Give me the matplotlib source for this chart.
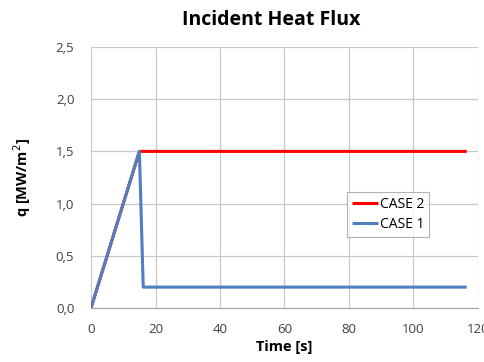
import matplotlib
matplotlib.use("Agg")
import matplotlib.pyplot as plt
from matplotlib.ticker import FuncFormatter

# Incident heat flux histories for the two load cases
case2_time = [0, 15, 116.5]
case2_q = [0.0, 1.5, 1.5]
case1_time = [0, 15, 16.2, 116.5]
case1_q = [0.0, 1.5, 0.2, 0.2]

x_ticks = [0, 20, 40, 60, 80, 100, 120]
y_ticks = [0.0, 0.5, 1.0, 1.5, 2.0, 2.5]

plt.rcParams['font.family'] = ['Open Sans', 'DejaVu Sans']

W, H = 485, 362
fig = plt.figure(figsize=(W / 100, H / 100), dpi=100)
ax = fig.add_axes([91 / W, 1 - 308 / H, 387 / W, 261 / H])

ax.plot(case2_time, case2_q, color='#ff0000', lw=2.2, label='CASE 2', solid_capstyle='butt')
ax.plot(case1_time, case1_q, color='#4f7fc0', lw=2.2, label='CASE 1', solid_capstyle='butt')

ax.set_xlim(0, 120)
ax.set_ylim(0, 2.5)
ax.set_xticks(x_ticks)
ax.set_yticks(y_ticks)
ax.yaxis.set_major_formatter(FuncFormatter(lambda v, p: f"{v:.1f}".replace('.', ',')))
ax.grid(True, color='#c8c8c8', lw=0.9)
ax.set_axisbelow(True)
for side in ['top', 'right', 'left']:
    ax.spines[side].set_visible(False)
ax.spines['bottom'].set_color('#a0a0a0')
ax.tick_params(axis='both', length=0, labelsize=9.5, labelcolor='#404040')
ax.tick_params(axis='x', pad=11)
ax.tick_params(axis='y', pad=12)

ax.set_xlabel('Time [s]', fontsize=10.5, fontweight='bold', labelpad=3)
ax.set_ylabel('q [MW/m$^2$]', fontsize=10.5, fontweight='bold', labelpad=16)
fig.text(271 / W, 1 - 20 / H, 'Incident Heat Flux', fontsize=14, fontweight='bold',
         ha='center', va='center')

leg = ax.legend(loc='upper left', bbox_to_anchor=((347 - 91) / 387, (308 - 192) / 261),
                fontsize=10, frameon=True, fancybox=False, handlelength=1.9,
                handletextpad=0.1, borderpad=0.35, labelspacing=0.35, borderaxespad=0)
leg.get_frame().set_edgecolor('#a0a0a0')
leg.get_frame().set_linewidth(0.8)

fig.savefig('out.png', dpi=100)
